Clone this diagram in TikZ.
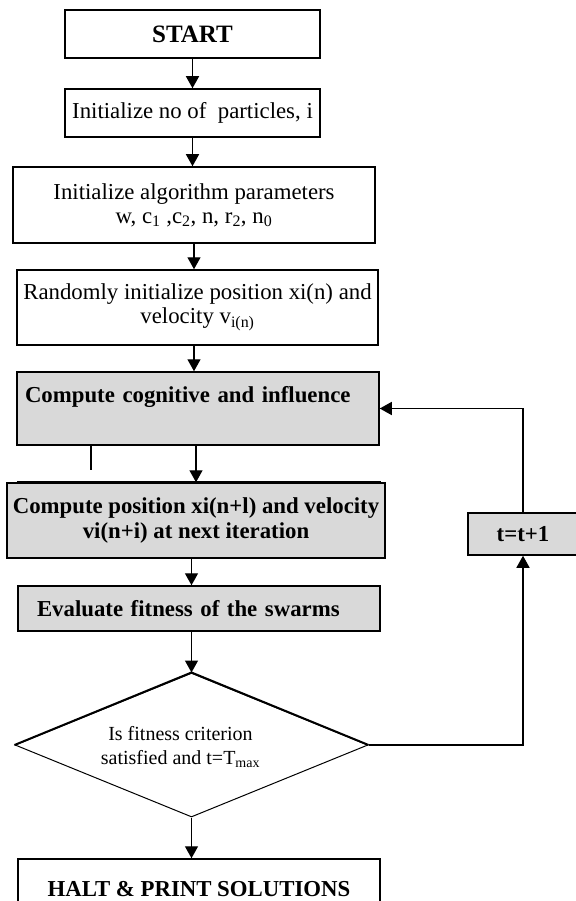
\documentclass[tikz,border=0pt]{standalone}
\usepackage{fontspec}
\setmainfont{Liberation Serif}
\usetikzlibrary{arrows.meta,shapes.geometric}
\definecolor{boxgray}{HTML}{D9D9D9}

\begin{document}
\begin{tikzpicture}[x=1pt,y=-1pt,
    box/.style={draw, line width=1.5pt, fill=white, inner sep=0pt, align=center,
                font=\fontsize{22.8}{24}\selectfont},
    bold/.style={font=\fontsize{22.8}{25}\selectfont\bfseries},
    shaded/.style={box, bold, fill=boxgray},
    flow/.style={line width=1.4pt, -{Triangle[width=13pt,length=12pt]}}]
    % Page of the same size as the reference
    \useasboundingbox (0,0) rectangle (575,901);

    % Main column of boxes
    \node[box, font=\fontsize{25}{26}\selectfont\bfseries,
          minimum width=255pt, minimum height=48pt] (start) at (192.5,34) {START};
    \node[box, minimum width=255pt, minimum height=48pt] (init) at (192.5,113)
        {Initialize no of\ \ particles, i};
    \node[box, minimum width=362pt, minimum height=76pt] (params) at (194,205)
        {Initialize algorithm parameters\\
         w, c\textsubscript{1} ,c\textsubscript{2}, n, r\textsubscript{2}, n\textsubscript{0}};
    \node[box, minimum width=361pt, minimum height=75pt] (rand) at (197.5,307.5)
        {Randomly initialize position xi(n) and\\ velocity v\textsubscript{i(n)}};
    \node[shaded, align=left, inner xsep=8pt, text width=346pt,
          text height=30pt, text depth=43pt] (cogn) at (198,408.5)
        {Compute cognitive and influence};
    \node[shaded, minimum width=378pt, minimum height=75pt] (pos) at (196,520.5)
        {Compute position xi(n+l) and velocity\\ vi(n+i) at next iteration};
    \node[shaded, align=left, inner xsep=19pt, text width=324pt,
          minimum height=45pt] (fit) at (199,608.5)
        {Evaluate fitness of the swarms};

    % Decision and loop box
    \node[draw, diamond, line width=1pt, inner sep=0pt, aspect=2.45,
          minimum width=353pt, minimum height=144pt] (dec) at (191.5,745) {};
    \draw[line width=2pt] (dec.west) -- (dec.north) -- (dec.east);
    \node[align=center, font=\fontsize{20}{24}\selectfont] (crit) at ([xshift=-11pt,yshift=-2pt]dec.center)
        {Is fitness criterion\\ satisfied and t=T\textsubscript{max}};
    \node[shaded, minimum width=110pt, minimum height=42pt] (upd) at (523,534) {t=t+1};

    \node[box, bold, minimum width=362pt, minimum height=60pt] (halt) at (199,889)
        {HALT \& PRINT SOLUTIONS};

    % Heavier top edge of the position box
    \draw[line width=2.4pt] ([xshift=11pt]pos.north west) -- ([xshift=-5pt]pos.north east);

    % Short stray mark under the cognitive box
    \coordinate (tick) at (91,470);
    \draw[line width=2pt] (tick |- cogn.south) -- (tick);

    % Downward flow
    \draw[flow] (start.south) -- (init.north);
    \draw[flow] (init.south) -- (init.south |- params.north);
    \draw[flow] (params.south) -- (params.south |- rand.north);
    \draw[flow] (params.south |- rand.south) -- (params.south |- cogn.north);
    \draw[flow] (pos.north |- cogn.south) -- (pos.north);
    \draw[flow] (dec.north |- pos.south) -- (dec.north |- fit.north);
    \draw[flow] (dec.north |- fit.south) -- (dec.north);
    \draw[flow] (dec.south) -- (dec.south |- halt.north);

    % Feedback loop
    \draw[flow] (dec.east) -| (upd.south);
    \draw[flow] (upd.north) |- (cogn.east);
\end{tikzpicture}
\end{document}
